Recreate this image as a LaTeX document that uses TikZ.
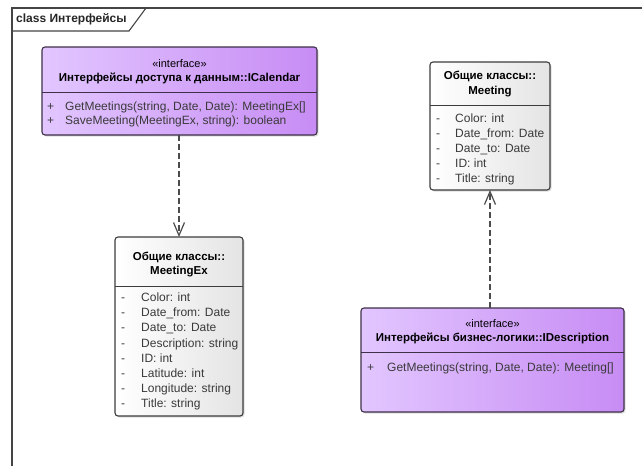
\documentclass[tikz,border=0pt]{standalone}
\usepackage{fontspec}
\setmainfont{Liberation Sans}
\usetikzlibrary{arrows.meta,shadows}

\definecolor{lavL}{HTML}{E2C6FF}
\definecolor{lavR}{HTML}{C78CF4}
\definecolor{ifaceline}{HTML}{3E3048}
\definecolor{classline}{HTML}{3C3C3C}
\definecolor{greyR}{HTML}{E4E4E4}
\definecolor{rowtext}{HTML}{3A3A3A}
\definecolor{frameline}{HTML}{444444}

\tikzset{
  boxshadow/.style={drop shadow={shadow xshift=1.5pt, shadow yshift=-1.5pt, opacity=0.22, fill=black!60}},
  ifacebox/.style={draw=ifaceline, line width=1.1pt, rounded corners=3pt,
    left color=lavL, right color=lavR, boxshadow,
    anchor=north west, inner sep=0pt, outer sep=0pt},
  classbox/.style={draw=classline, line width=1.1pt, rounded corners=3pt,
    left color=white, right color=greyR, boxshadow,
    anchor=north west, inner sep=0pt, outer sep=0pt},
  sepline/.style={line width=0.8pt},
  title/.style={font=\fontsize{11.5}{13}\selectfont\bfseries, inner sep=0pt},
  stereo/.style={font=\fontsize{11}{13}\selectfont, inner sep=0pt},
  rowsign/.style={font=\fontsize{12}{14}\selectfont, text=rowtext, inner sep=0pt, anchor=base west},
  rowtxt/.style={font=\fontsize{12}{14}\selectfont, text=rowtext, inner sep=0pt, anchor=base west},
  dep/.style={draw=black!70, line width=1.2pt, dash pattern=on 6pt off 3pt,
    -{Straight Barb[length=13pt,width=11pt,line width=1.2pt]}},
}

\begin{document}
\begin{tikzpicture}[x=1pt,y=-1pt]
\useasboundingbox[fill=white] (0,0) rectangle (642,466);

% diagram frame with its name tab
\draw[frameline, line width=1.6pt] (12,466) -- (12,8) -- (642,8);
\draw[frameline, line width=1.1pt] (12,31) -- (129,31) -- (146,8);
\node[font=\fontsize{12}{14}\selectfont\bfseries, text=black!85, anchor=west, inner sep=0pt]
  (frametitle) at (16,19.5) {class Интерфейсы};

% ---- ICalendar interface
\node[ifacebox, minimum width=275pt, minimum height=88pt] (cal) at (42,47) {};
\node[stereo] (calst) at (179.5,64) {«interface»};
\node[title] (calname) at (179.5,78) {Интерфейсы доступа к данным::ICalendar};
\draw[sepline, ifaceline] (cal.west |- 0,92) -- (cal.east |- 0,92);
\node[rowsign] (calp1) at (47,110) {+};
\node[rowtxt]  (calr1) at (65,110) {GetMeetings(string, Date, Date): MeetingEx[]};
\node[rowsign] (calp2) at (47,124) {+};
\node[rowtxt]  (calr2) at (65,124) {SaveMeeting(MeetingEx, string): boolean};

% ---- Meeting class
\node[classbox, minimum width=120pt, minimum height=128pt] (mtg) at (430,62) {};
\node[title] (mtgn1) at (490,76) {Общие классы::};
\node[title] (mtgn2) at (490,92) {Meeting};
\draw[sepline, classline] (mtg.west |- 0,105) -- (mtg.east |- 0,105);
\foreach \i/\t in {0/{Color: int},1/{Date\_from: Date},2/{Date\_to: Date},3/{ID: int},4/{Title: string}}{
  \node[rowsign] (mtgm\i) at (436,122+15*\i) {-};
  \node[rowtxt]  (mtgr\i) at (455,122+15*\i) {\t};
}

% ---- MeetingEx class
\node[classbox, minimum width=128pt, minimum height=179pt] (mex) at (115,237) {};
\node[title] (mexn1) at (179,257) {Общие классы::};
\node[title] (mexn2) at (179,272) {MeetingEx};
\draw[sepline, classline] (mex.west |- 0,286) -- (mex.east |- 0,286);
\foreach \i/\t in {0/{Color: int},1/{Date\_from: Date},2/{Date\_to: Date},3/{Description: string},
                   4/{ID: int},5/{Latitude: int},6/{Longitude: string},7/{Title: string}}{
  \node[rowsign] (mexm\i) at (121,301.5+15.2*\i) {-};
  \node[rowtxt]  (mexr\i) at (141,301.5+15.2*\i) {\t};
}

% ---- IDescription interface
\node[ifacebox, minimum width=263pt, minimum height=104pt] (desc) at (361,308) {};
\node[stereo] (descst) at (492.5,324) {«interface»};
\node[title] (descname) at (492.5,338) {Интерфейсы бизнес-логики::IDescription};
\draw[sepline, ifaceline] (desc.west |- 0,352) -- (desc.east |- 0,352);
\node[rowsign] (descp1) at (367,371) {+};
\node[rowtxt]  (descr1) at (387,371) {GetMeetings(string, Date, Date): Meeting[]};

% ---- dependencies
\draw[dep] (cal.south -| mex.north) -- (mex.north);
\draw[dep] (desc.north -| mtg.south) -- (mtg.south);
\end{tikzpicture}
\end{document}
